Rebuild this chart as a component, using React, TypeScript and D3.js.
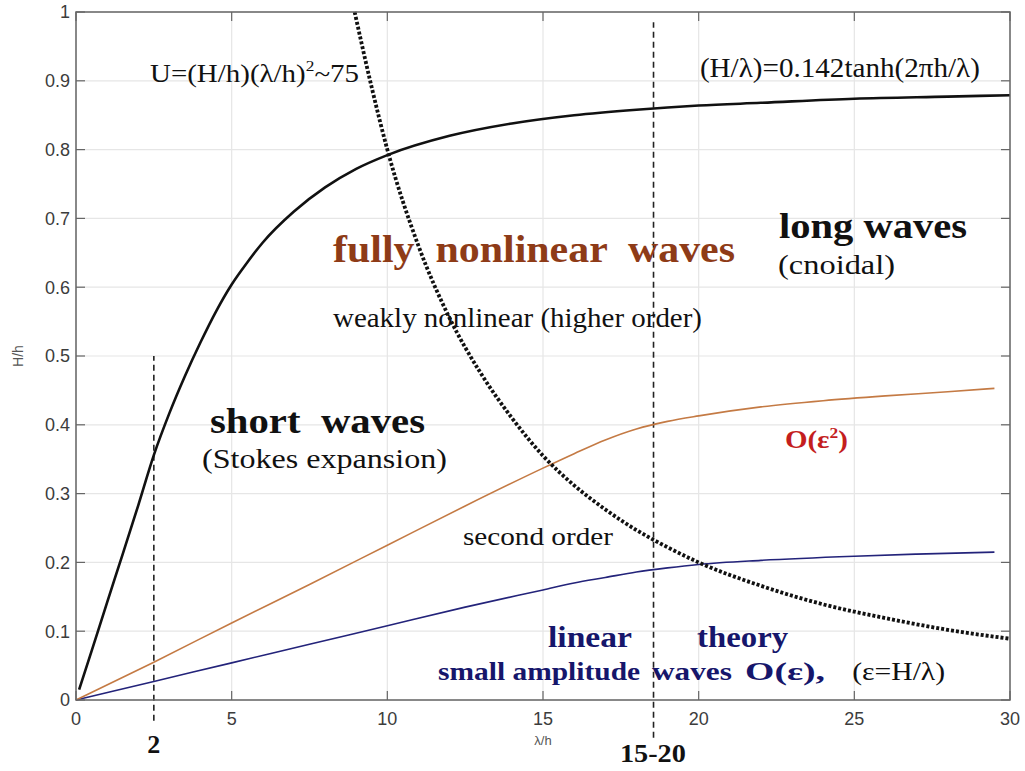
import React from "react";
import * as d3 from "d3";

// ---- data ----
const steepX = [0.1, 0.5, 1, 1.5, 2, 2.5, 3, 3.5, 4, 4.5, 5, 5.5, 6, 7, 8, 9, 10, 12, 14, 16, 18, 20, 22, 25, 28, 30];
const steepY = [0.015, 0.071, 0.142, 0.212, 0.283, 0.356, 0.417, 0.471, 0.52, 0.565, 0.604, 0.636, 0.665, 0.71, 0.745, 0.772, 0.792, 0.82, 0.838, 0.85, 0.858, 0.864, 0.868, 0.874, 0.877, 0.879];

const ursellX = [8.95, 9.5, 10, 11, 12, 13, 14, 15, 16, 17, 18, 19, 20, 22, 24, 26, 28, 30];
const ursellY = [1.0, 0.89, 0.8, 0.66, 0.555, 0.475, 0.41, 0.355, 0.312, 0.277, 0.247, 0.222, 0.2, 0.166, 0.139, 0.119, 0.102, 0.089];

const secondX = [0, 2.5, 5, 7.5, 10, 12.5, 15, 16, 17, 18, 19, 20, 22, 24, 26, 28, 29.5];
const secondY = [0, 0.055, 0.112, 0.168, 0.225, 0.282, 0.337, 0.358, 0.378, 0.394, 0.405, 0.413, 0.426, 0.435, 0.442, 0.448, 0.453];

const linearX = [0, 2.5, 5, 7.5, 10, 12.5, 15, 16, 17, 18, 19, 20, 22, 25, 27, 29.5];
const linearY = [0, 0.027, 0.054, 0.081, 0.108, 0.135, 0.16, 0.17, 0.178, 0.186, 0.192, 0.197, 0.203, 0.209, 0.212, 0.215];

const xTicks = [0, 5, 10, 15, 20, 25, 30];
const yTicks = [0, 0.1, 0.2, 0.3, 0.4, 0.5, 0.6, 0.7, 0.8, 0.9, 1];
const yTickLabels = ["0", "0.1", "0.2", "0.3", "0.4", "0.5", "0.6", "0.7", "0.8", "0.9", "1"];

const markerX = [2.5, 18.55];
const markerY0 = [-0.03, -0.055];
const markerY1 = [0.5, 0.985];

// ---- layout ----
const W = 1025;
const H = 771;
const x = d3.scaleLinear().domain([0, 30]).range([76, 1010]);
const y = d3.scaleLinear().domain([0, 1]).range([700, 12]);

const SERIF = "'Liberation Serif', 'Times New Roman', serif";
const SANS = "'Liberation Sans', Arial, sans-serif";

type Ann = {
  text: string; sup?: string; tail?: string; x: number; y: number; size: number; len?: number;
  bold?: boolean; color?: string; anchor?: string;
};

const annotations: Ann[] = [
  { text: "U=(H/h)(λ/h)", sup: "2", tail: "~75", x: 2.377, y: 0.898, size: 26, len: 209 },
  { text: "(H/λ)=0.142tanh(2πh/λ)", x: 20.04, y: 0.9055, size: 27, len: 280 },
  { text: "fully  nonlinear  waves", x: 8.255, y: 0.6366, size: 38, len: 402, bold: true, color: "#8e3b17" },
  { text: "long waves", x: 22.58, y: 0.6715, size: 36, len: 188, bold: true },
  { text: "(cnoidal)", x: 22.55, y: 0.619, size: 28, len: 117 },
  { text: "weakly nonlinear (higher order)", x: 8.255, y: 0.542, size: 28, len: 369 },
  { text: "short  waves", x: 4.304, y: 0.388, size: 36, len: 215, bold: true },
  { text: "(Stokes expansion)", x: 4.047, y: 0.337, size: 28, len: 245 },
  { text: "second order", x: 12.43, y: 0.2253, size: 26, len: 150 },
  { text: "O(ε", sup: "2", tail: ")", x: 22.77, y: 0.366, size: 25, len: 63, bold: true, color: "#c41e1e" },
  { text: "linear", x: 15.16, y: 0.077, size: 29, len: 84, bold: true, color: "#16166b" },
  { text: "theory", x: 19.95, y: 0.077, size: 29, len: 91, bold: true, color: "#16166b" },
  { text: "small amplitude", x: 11.63, y: 0.029, size: 25, len: 202, bold: true, color: "#16166b" },
  { text: "waves", x: 18.5, y: 0.029, size: 25, len: 80, bold: true, color: "#16166b" },
  { text: "O(ε),", x: 21.49, y: 0.029, size: 25, len: 80, bold: true, color: "#16166b" },
  { text: "(ε=H/λ)", x: 24.93, y: 0.029, size: 25, len: 93 },
  { text: "2", x: 2.5, y: -0.077, size: 26, len: 13, bold: true, anchor: "middle" },
  { text: "15-20", x: 18.53, y: -0.09, size: 26, len: 66, bold: true, anchor: "middle" },
];

function pts(xs: number[], ys: number[]): [number, number][] {
  return xs.map((v, i) => [v, ys[i]] as [number, number]);
}

export default function App() {
  const line = d3
    .line<[number, number]>()
    .x((d) => x(d[0]))
    .y((d) => y(d[1]))
    .curve(d3.curveMonotoneX);

  const x0 = x(0), x1 = x(30), y0 = y(0), y1 = y(1);

  return (
    <svg width={W} height={H} style={{ position: "absolute", left: 0, top: 0, background: "#fff" }}>
      <rect x={0} y={0} width={W} height={H} fill="#fff" />
      {/* grid */}
      {xTicks.map((t) => (
        <line key={"gx" + t} x1={x(t)} x2={x(t)} y1={y0} y2={y1} stroke="#e6e6e6" strokeWidth={1.2} />
      ))}
      {yTicks.map((t) => (
        <line key={"gy" + t} x1={x0} x2={x1} y1={y(t)} y2={y(t)} stroke="#e6e6e6" strokeWidth={1.2} />
      ))}
      {/* ticks inward on all sides */}
      {xTicks.map((t) => (
        <g key={"tx" + t}>
          <line x1={x(t)} x2={x(t)} y1={y0} y2={y0 - 9} stroke="#666" strokeWidth={1.2} />
          <line x1={x(t)} x2={x(t)} y1={y1} y2={y1 + 9} stroke="#666" strokeWidth={1.2} />
          <text x={x(t)} y={y0 + 25} textAnchor="middle" fontFamily={SANS} fontSize={18} fill="#3c3c3c">
            {t}
          </text>
        </g>
      ))}
      {yTicks.map((t, i) => (
        <g key={"ty" + t}>
          <line x1={x0} x2={x0 + 9} y1={y(t)} y2={y(t)} stroke="#666" strokeWidth={1.2} />
          <line x1={x1} x2={x1 - 9} y1={y(t)} y2={y(t)} stroke="#666" strokeWidth={1.2} />
          <text x={x0 - 6} y={y(t)} dy="0.35em" textAnchor="end" fontFamily={SANS} fontSize={18} fill="#3c3c3c">
            {yTickLabels[i]}
          </text>
        </g>
      ))}
      {/* axis labels */}
      <text x={x(15)} y={745} textAnchor="middle" fontFamily={SANS} fontSize={13} fill="#555">λ/h</text>
      <text transform={`translate(23, ${y(0.5)}) rotate(-90)`} textAnchor="middle" fontFamily={SANS} fontSize={14} fill="#555">H/h</text>

      {/* marker dashed verticals */}
      {markerX.map((mx, i) => (
        <line key={"m" + i} x1={x(mx)} x2={x(mx)} y1={y(markerY0[i])} y2={y(markerY1[i])}
          stroke="#222" strokeWidth={1.6} strokeDasharray="6 4" />
      ))}

      {/* curves */}
      <path d={line(pts(linearX, linearY)) || ""} fill="none" stroke="#23237a" strokeWidth={1.6} />
      <path d={line(pts(secondX, secondY)) || ""} fill="none" stroke="#c47a44" strokeWidth={1.6} />
      <path d={line(pts(steepX, steepY)) || ""} fill="none" stroke="#111" strokeWidth={2.6} />
      <path d={line(pts(ursellX, ursellY)) || ""} fill="none" stroke="#111" strokeWidth={3.8} strokeDasharray="3 2" />

      {/* frame */}
      <rect x={x0} y={y1} width={x1 - x0} height={y0 - y1} fill="none" stroke="#666" strokeWidth={1.5} />

      {/* annotations */}
      {annotations.map((a, i) => (
        <text key={"a" + i} x={x(a.x)} y={y(a.y)} fontFamily={SERIF} fontSize={a.size}
          fontWeight={a.bold ? "bold" : "normal"} fill={a.color || "#111"}
          textAnchor={a.anchor || "start"} textLength={a.len} lengthAdjust="spacingAndGlyphs"
          style={{ whiteSpace: "pre" }}>
          {a.sup ? (
            <>
              <tspan>{a.text}</tspan>
              <tspan dy={-a.size * 0.42} fontSize={a.size * 0.6}>{a.sup}</tspan>
              <tspan dy={a.size * 0.42}>{a.tail}</tspan>
            </>
          ) : (
            a.text
          )}
        </text>
      ))}
    </svg>
  );
}
